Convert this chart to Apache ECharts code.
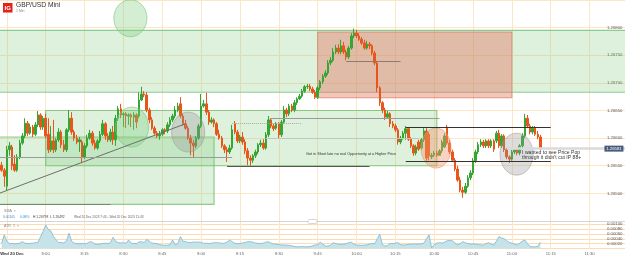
<!DOCTYPE html>
<html><head><meta charset="utf-8">
<script src="https://cdn.jsdelivr.net/npm/echarts@6/dist/echarts.min.js"></script>
<style>html,body{margin:0;padding:0;background:#fff;overflow:hidden}#c{width:625px;height:257px}</style>
</head><body><div id="c"></div>
<script>
// ---- DATA ----
const startMinute = 463; // 07:43, one candle per minute
const openP = [1.26551,1.26542,1.26513,1.26579,1.26584,1.26553,1.26542,1.26566,1.26591,1.26604,
1.26627,1.26609,1.26620,1.26607,1.26624,1.26642,1.26620,1.26636,1.26607,1.26579,
1.26595,1.26579,1.26597,1.26611,1.26588,1.26579,1.26615,1.26636,1.26611,1.26600,
1.26593,1.26593,1.26566,1.26586,1.26600,1.26609,1.26591,1.26582,1.26595,1.26607,
1.26626,1.26604,1.26597,1.26611,1.26597,1.26636,1.26653,1.26642,1.26644,1.26640,
1.26642,1.26638,1.26642,1.26640,1.26669,1.26680,1.26678,1.26651,1.26633,1.26618,
1.26609,1.26604,1.26607,1.26615,1.26613,1.26624,1.26633,1.26640,1.26651,1.26662,
1.26640,1.26626,1.26618,1.26600,1.26591,1.26586,1.26600,1.26622,1.26658,1.26662,
1.26647,1.26629,1.26633,1.26626,1.26607,1.26600,1.26586,1.26579,1.26575,1.26582,
1.26626,1.26611,1.26595,1.26602,1.26593,1.26577,1.26564,1.26560,1.26568,1.26575,
1.26588,1.26591,1.26582,1.26606,1.26633,1.26622,1.26618,1.26626,1.26606,1.26629,
1.26651,1.26644,1.26658,1.26651,1.26664,1.26671,1.26676,1.26685,1.26693,1.26694,
1.26689,1.26683,1.26674,1.26691,1.26702,1.26712,1.26718,1.26736,1.26741,1.26756,
1.26763,1.26756,1.26767,1.26756,1.26747,1.26763,1.26785,1.26790,1.26785,1.26779,
1.26772,1.26763,1.26770,1.26767,1.26754,1.26736,1.26691,1.26664,1.26651,1.26638,
1.26644,1.26626,1.26622,1.26615,1.26593,1.26600,1.26609,1.26617,1.26598,1.26586,
1.26573,1.26593,1.26582,1.26597,1.26613,1.26607,1.26566,1.26569,1.26573,1.26569,
1.26577,1.26584,1.26620,1.26591,1.26575,1.26560,1.26544,1.26524,1.26506,1.26502,
1.26513,1.26528,1.26537,1.26559,1.26575,1.26588,1.26593,1.26586,1.26595,1.26586,
1.26595,1.26595,1.26609,1.26586,1.26604,1.26579,1.26566,1.26562,1.26575,1.26579,
1.26573,1.26586,1.26604,1.26636,1.26622,1.26611,1.26618,1.26607,1.26602];
const closeP = [1.26542,1.26531,1.26579,1.26586,1.26550,1.26542,1.26566,1.26591,1.26604,1.26627,
1.26609,1.26620,1.26607,1.26624,1.26642,1.26620,1.26636,1.26604,1.26579,1.26595,
1.26579,1.26597,1.26611,1.26588,1.26579,1.26615,1.26636,1.26611,1.26600,1.26593,
1.26597,1.26566,1.26586,1.26600,1.26609,1.26591,1.26582,1.26595,1.26607,1.26626,
1.26604,1.26597,1.26611,1.26597,1.26636,1.26653,1.26642,1.26644,1.26640,1.26642,
1.26638,1.26642,1.26629,1.26669,1.26680,1.26678,1.26651,1.26633,1.26618,1.26609,
1.26604,1.26607,1.26615,1.26613,1.26624,1.26633,1.26640,1.26651,1.26658,1.26640,
1.26626,1.26618,1.26600,1.26591,1.26586,1.26600,1.26622,1.26658,1.26662,1.26647,
1.26629,1.26633,1.26626,1.26607,1.26600,1.26586,1.26579,1.26575,1.26582,1.26615,
1.26611,1.26595,1.26602,1.26593,1.26577,1.26564,1.26560,1.26568,1.26575,1.26588,
1.26591,1.26582,1.26606,1.26633,1.26622,1.26617,1.26626,1.26606,1.26629,1.26651,
1.26644,1.26658,1.26651,1.26664,1.26671,1.26676,1.26685,1.26693,1.26694,1.26689,
1.26683,1.26674,1.26691,1.26702,1.26712,1.26718,1.26736,1.26741,1.26756,1.26763,
1.26756,1.26767,1.26756,1.26747,1.26763,1.26785,1.26790,1.26785,1.26779,1.26772,
1.26763,1.26770,1.26767,1.26754,1.26736,1.26691,1.26664,1.26651,1.26638,1.26644,
1.26626,1.26622,1.26615,1.26593,1.26600,1.26609,1.26617,1.26598,1.26586,1.26573,
1.26584,1.26580,1.26597,1.26613,1.26564,1.26568,1.26569,1.26573,1.26569,1.26577,
1.26593,1.26604,1.26591,1.26575,1.26560,1.26544,1.26524,1.26506,1.26502,1.26513,
1.26528,1.26537,1.26559,1.26575,1.26588,1.26593,1.26586,1.26595,1.26586,1.26595,
1.26580,1.26609,1.26586,1.26604,1.26579,1.26566,1.26562,1.26575,1.26579,1.26573,
1.26586,1.26604,1.26636,1.26622,1.26611,1.26618,1.26607,1.26602,1.26581];
const lowP = [1.26539,1.26512,1.26506,1.26568,1.26542,1.26539,1.26539,1.26562,1.26588,1.26600,
1.26604,1.26606,1.26602,1.26604,1.26620,1.26615,1.26615,1.26600,1.26573,1.26575,
1.26573,1.26575,1.26593,1.26582,1.26575,1.26575,1.26611,1.26606,1.26595,1.26589,
1.26575,1.26555,1.26562,1.26582,1.26597,1.26586,1.26579,1.26579,1.26591,1.26604,
1.26597,1.26593,1.26593,1.26588,1.26586,1.26631,1.26636,1.26620,1.26618,1.26624,
1.26620,1.26615,1.26618,1.26636,1.26667,1.26674,1.26647,1.26627,1.26615,1.26606,
1.26600,1.26597,1.26604,1.26607,1.26609,1.26620,1.26629,1.26636,1.26647,1.26636,
1.26622,1.26615,1.26597,1.26569,1.26566,1.26582,1.26597,1.26618,1.26655,1.26642,
1.26624,1.26626,1.26620,1.26604,1.26597,1.26582,1.26573,1.26557,1.26571,1.26579,
1.26607,1.26591,1.26591,1.26588,1.26571,1.26551,1.26550,1.26555,1.26564,1.26571,
1.26584,1.26579,1.26579,1.26602,1.26618,1.26613,1.26615,1.26600,1.26602,1.26626,
1.26638,1.26640,1.26647,1.26647,1.26660,1.26669,1.26673,1.26682,1.26689,1.26685,
1.26680,1.26671,1.26671,1.26687,1.26698,1.26709,1.26714,1.26732,1.26738,1.26752,
1.26752,1.26752,1.26752,1.26741,1.26743,1.26760,1.26781,1.26781,1.26776,1.26769,
1.26760,1.26760,1.26761,1.26750,1.26732,1.26683,1.26658,1.26645,1.26633,1.26635,
1.26620,1.26618,1.26611,1.26588,1.26589,1.26597,1.26597,1.26595,1.26582,1.26568,
1.26569,1.26577,1.26579,1.26593,1.26559,1.26560,1.26562,1.26566,1.26566,1.26568,
1.26573,1.26582,1.26588,1.26571,1.26557,1.26540,1.26521,1.26502,1.26492,1.26499,
1.26510,1.26524,1.26533,1.26555,1.26571,1.26584,1.26582,1.26582,1.26582,1.26582,
1.26575,1.26591,1.26582,1.26582,1.26575,1.26562,1.26555,1.26559,1.26571,1.26569,
1.26569,1.26582,1.26600,1.26618,1.26607,1.26607,1.26604,1.26598,1.26579];
const highP = [1.26557,1.26546,1.26586,1.26593,1.26588,1.26569,1.26571,1.26597,1.26609,1.26636,
1.26631,1.26626,1.26624,1.26629,1.26649,1.26645,1.26640,1.26644,1.26636,1.26622,
1.26633,1.26600,1.26618,1.26615,1.26597,1.26618,1.26651,1.26647,1.26615,1.26606,
1.26602,1.26597,1.26591,1.26606,1.26615,1.26613,1.26597,1.26598,1.26613,1.26633,
1.26629,1.26609,1.26617,1.26622,1.26642,1.26658,1.26662,1.26647,1.26647,1.26645,
1.26645,1.26647,1.26645,1.26683,1.26693,1.26685,1.26683,1.26655,1.26638,1.26622,
1.26613,1.26613,1.26618,1.26618,1.26629,1.26638,1.26644,1.26658,1.26664,1.26674,
1.26645,1.26633,1.26622,1.26606,1.26597,1.26604,1.26626,1.26680,1.26669,1.26682,
1.26651,1.26638,1.26636,1.26629,1.26615,1.26604,1.26589,1.26584,1.26588,1.26624,
1.26631,1.26615,1.26606,1.26611,1.26598,1.26582,1.26569,1.26571,1.26579,1.26591,
1.26597,1.26598,1.26611,1.26640,1.26636,1.26626,1.26629,1.26629,1.26633,1.26658,
1.26655,1.26662,1.26662,1.26669,1.26674,1.26680,1.26689,1.26696,1.26698,1.26698,
1.26693,1.26687,1.26694,1.26705,1.26716,1.26723,1.26741,1.26747,1.26763,1.26769,
1.26770,1.26778,1.26774,1.26760,1.26767,1.26790,1.26798,1.26796,1.26790,1.26783,
1.26778,1.26776,1.26774,1.26770,1.26758,1.26740,1.26694,1.26667,1.26655,1.26649,
1.26647,1.26631,1.26626,1.26618,1.26604,1.26613,1.26622,1.26620,1.26602,1.26589,
1.26588,1.26597,1.26600,1.26618,1.26618,1.26611,1.26573,1.26577,1.26577,1.26580,
1.26597,1.26609,1.26624,1.26597,1.26579,1.26564,1.26550,1.26530,1.26512,1.26519,
1.26533,1.26542,1.26564,1.26579,1.26593,1.26598,1.26597,1.26598,1.26598,1.26598,
1.26598,1.26613,1.26615,1.26607,1.26607,1.26582,1.26569,1.26579,1.26580,1.26580,
1.26589,1.26609,1.26644,1.26642,1.26626,1.26622,1.26622,1.26613,1.26606];
const atrVals = [0.00021,0.00056,0.00030,0.00020,0.00021,0.00019,0.00020,0.00022,0.00028,0.00022,
0.00020,0.00021,0.00022,0.00024,0.00025,0.00048,0.00070,0.00097,0.00078,0.00072,
0.00049,0.00035,0.00025,0.00024,0.00023,0.00030,0.00063,0.00030,0.00022,0.00020,
0.00020,0.00021,0.00019,0.00022,0.00028,0.00026,0.00018,0.00017,0.00018,0.00021,
0.00022,0.00020,0.00024,0.00046,0.00030,0.00024,0.00023,0.00024,0.00022,0.00035,
0.00022,0.00021,0.00020,0.00027,0.00028,0.00024,0.00038,0.00030,0.00022,0.00021,
0.00020,0.00016,0.00014,0.00013,0.00014,0.00015,0.00035,0.00015,0.00020,0.00049,
0.00030,0.00028,0.00025,0.00024,0.00027,0.00026,0.00027,0.00025,0.00021,0.00022,
0.00020,0.00022,0.00024,0.00024,0.00023,0.00021,0.00022,0.00026,0.00035,0.00028,
0.00021,0.00020,0.00021,0.00022,0.00025,0.00028,0.00028,0.00026,0.00022,0.00021,
0.00021,0.00022,0.00026,0.00028,0.00022,0.00018,0.00018,0.00016,0.00015,0.00014,
0.00014,0.00013,0.00011,0.00009,0.00007,0.00007,0.00008,0.00007,0.00007,0.00008,
0.00011,0.00014,0.00016,0.00026,0.00018,0.00010,0.00010,0.00014,0.00024,0.00020,
0.00018,0.00017,0.00018,0.00020,0.00024,0.00026,0.00018,0.00014,0.00014,0.00013,
0.00014,0.00015,0.00018,0.00021,0.00019,0.00040,0.00059,0.00015,0.00010,0.00012,
0.00021,0.00020,0.00022,0.00024,0.00016,0.00014,0.00015,0.00017,0.00018,0.00019,
0.00018,0.00018,0.00019,0.00022,0.00040,0.00056,0.00003,0.00016,0.00022,0.00024,
0.00022,0.00026,0.00032,0.00033,0.00032,0.00022,0.00015,0.00020,0.00028,0.00024,
0.00020,0.00018,0.00019,0.00018,0.00016,0.00015,0.00014,0.00020,0.00024,0.00018,
0.00014,0.00030,0.00049,0.00043,0.00040,0.00032,0.00025,0.00022,0.00018,0.00014,
0.00022,0.00030,0.00035,0.00020,0.00008,0.00007,0.00007,0.00009,0.00026];

// drawings (minute-of-day, price)
const boxes = [
  {kind:'green',  from:[450,1.26795], to:[705,1.26683]},
  {kind:'green',  from:[455,1.26602], to:[545,1.26480]},
  {kind:'green',  from:[480,1.26650], to:[631,1.26550]},
  {kind:'orange', from:[585,1.26792], to:[660,1.26673]}
];
const lines = [
  {kind:'trend',  from:[462,1.26500], to:[534,1.26626]},
  {kind:'grey',   from:[455,1.26566], to:[552,1.26566]},
  {kind:'green',  from:[455,1.26481], to:[505,1.26481]},
  {kind:'dark',   from:[550,1.26549], to:[605,1.26549]},
  {kind:'dotted', from:[552,1.26627], to:[579,1.26627]},
  {kind:'grey',   from:[567,1.26636], to:[632,1.26636]},
  {kind:'light',  from:[565,1.26600], to:[624,1.26600]},
  {kind:'brown',  from:[596,1.26740], to:[617,1.26740]},
  {kind:'black',  from:[619,1.26620], to:[675,1.26620]},
  {kind:'black',  from:[619,1.26559], to:[675,1.26559]}
];
// ellipses: [centre minute, centre price, radius minutes, radius price, kind]
const circles = [
  [512.7, 1.26817, 6.4, 0.000335, 0],
  [513.3, 1.26620, 6.4, 0.000362, 0],
  [535.0, 1.26611, 6.4, 0.000362, 1],
  [630.7, 1.26582, 5.8, 0.000362, 2],
  [661.8, 1.26571, 6.4, 0.000380, 1]
];
const notes = [
  {at:[580.5, 1.26571], text:'Get in Short late no real Opportunity at a Higher Price', size:3.8},
  {at:[663.9, 1.26569], text:'I wanted to see Price Pop\nthrough it didn\'t cut IP 88+', size:5.1}
];
const xMin = 450, xMax = 705, xStep = 15;

// ---- CHART ----
const PX = 2.59;
const gridLeft = -32, gridWidth = (xMax - xMin) * PX;
const candles = openP.map((o,i)=>[startMinute+i, o, closeP[i], lowP[i], highP[i]]);
const atr = atrVals.map((v,i)=>[startMinute+i, v]);
const lastPrice = closeP[closeP.length-1];
const FONT = 'Liberation Sans';
const GRID_C = '#fce6c6';

const boxStyle = {
  green: {color:'rgba(120,200,120,0.25)', borderColor:'rgba(110,190,110,0.75)', borderWidth:1.2},
  orange:{color:'rgba(230,110,90,0.40)', borderColor:'rgba(215,130,105,0.8)', borderWidth:1}
};
const lineStyle = {
  trend:{color:'#6e6e6e', width:1, type:'solid'},
  grey:{color:'#9a9a9a', width:1, type:'solid'},
  green:{color:'#6f8c6f', width:1.2, type:'solid'},
  dark:{color:'#555', width:1, type:'solid'},
  dotted:{color:'#aaa', width:1, type:'dotted'},
  light:{color:'#c4c4c4', width:1, type:'solid'},
  brown:{color:'#8d7d6d', width:1, type:'solid'},
  black:{color:'#333', width:1, type:'solid'}
};
const circStyle = [
  {fill:'rgba(130,205,130,0.35)', stroke:'rgba(120,190,120,0.55)'},
  {fill:'rgba(150,150,150,0.32)', stroke:'rgba(150,150,150,0.5)'},
  {fill:'rgba(240,150,110,0.42)', stroke:'rgba(230,150,120,0.6)'}
];
function fmtTime(v){
  if (v === 465) return '{d|Wed 20 Dec}';
  const h = Math.floor(v/60), m = v%60;
  return h + ':' + (m<10?'0':'') + m;
}

const chart = echarts.init(document.getElementById('c'), null, {renderer:'canvas', width:625, height:257});
const txt = (x,y,text,size,fill,extra) => Object.assign({type:'text', x:x, y:y, z:100,
  style:{text:text, fill:fill, font:size+'px "'+FONT+'"', fontSize:size, fontFamily:FONT,
         align:'left', verticalAlign:'middle', textAlign:'left', textVerticalAlign:'middle'}}, extra||{});

chart.setOption({
  animation:false,
  backgroundColor:'#fff',
  grid:[
    {left:gridLeft, top:0, width:gridWidth, height:221, outerBoundsMode:'none', containLabel:false},
    {left:gridLeft, top:221, width:gridWidth, height:27.5, outerBoundsMode:'none', containLabel:false}
  ],
  xAxis:[
    {type:'value', gridIndex:0, min:xMin, max:xMax, interval:xStep,
     axisLine:{show:false}, axisTick:{show:false}, axisLabel:{show:false},
     splitLine:{show:true, lineStyle:{color:GRID_C, width:1}}},
    {type:'value', gridIndex:1, min:xMin, max:xMax, interval:xStep,
     axisLine:{show:false}, axisTick:{show:false},
     axisLabel:{show:true, fontSize:4.2, color:'#666', fontFamily:FONT, margin:3,
       showMaxLabel:false, formatter:fmtTime,
       rich:{d:{fontSize:4.2, fontWeight:'bold', color:'#333', fontFamily:FONT, padding:[0,0,0,10]}}},
     splitLine:{show:true, lineStyle:{color:GRID_C, width:1}}}
  ],
  yAxis:[
    {type:'value', gridIndex:0, position:'right', min:1.2645, max:1.2685, interval:0.0005,
     axisLine:{show:false}, axisTick:{show:false},
     axisLabel:{inside:true, margin:6, fontSize:4.3, color:'#555', fontFamily:FONT,
       showMinLabel:false, showMaxLabel:false, formatter:v=>v.toFixed(5)},
     splitLine:{show:true, lineStyle:{color:GRID_C, width:1}}},
    {type:'value', gridIndex:1, position:'right', min:0, max:0.00113, interval:0.0002,
     axisLine:{show:false}, axisTick:{show:false},
     axisLabel:{inside:true, margin:6, fontSize:4.3, color:'#555', fontFamily:FONT,
       showMinLabel:false, showMaxLabel:false, formatter:v=>v.toFixed(5)},
     splitLine:{show:true, lineStyle:{color:'#fbdcb4', width:1}}}
  ],
  series:[
    {type:'candlestick', xAxisIndex:0, yAxisIndex:0, z:2, barWidth:2, large:false,
     data:candles,
     itemStyle:{color:'#35a535', color0:'#e8561a', borderColor:'#35a535', borderColor0:'#e8561a', borderWidth:1},
     markArea:{silent:true, z:1, label:{show:false},
       data: boxes.map(b=>[{coord:b.from, itemStyle:boxStyle[b.kind]},{coord:b.to}])},
     markLine:{silent:true, z:5, symbol:['none','none'], label:{show:false},
       lineStyle:{type:'solid'},
       data: lines.map(l=>[{coord:l.from, lineStyle:lineStyle[l.kind]},{coord:l.to}])
         .concat([[{coord:[658,lastPrice], lineStyle:{color:'#dadada', width:2.5, type:'solid'}},{coord:[xMax,lastPrice]}]])},
     markPoint:{silent:true, z:6,
       data: notes.map(n=>({coord:n.at, symbol:'rect', symbolSize:[0.1,0.1],
           itemStyle:{color:'rgba(0,0,0,0)'},
           label:{show:true, position:'right', distance:0, formatter:n.text, fontSize:n.size,
                  lineHeight:n.size*1.1, color:'#333', fontFamily:FONT}}))
         .concat([{coord:[699.4,lastPrice], symbol:'rect', symbolSize:[19,6], itemStyle:{color:'#4b5a7b'},
           label:{show:true, position:'inside', formatter:lastPrice.toFixed(5), fontSize:4.3, color:'#fff', fontFamily:FONT}}])}
    },
    {type:'custom', xAxisIndex:0, yAxisIndex:0, z:3, silent:true, data:circles,
     renderItem:function(params, api){
       const c = api.coord([api.value(0), api.value(1)]);
       const s = api.size([api.value(2), api.value(3)]);
       const st = circStyle[api.value(4)];
       return {type:'ellipse', shape:{cx:c[0], cy:c[1], rx:s[0], ry:s[1]},
               style:{fill:st.fill, stroke:st.stroke, lineWidth:1}};
     }},
    {type:'line', xAxisIndex:1, yAxisIndex:1, data:atr, showSymbol:false, silent:true,
     lineStyle:{color:'#7db8d2', width:0.8}, areaStyle:{color:'#c5e3e9', opacity:1}}
  ],
  graphic:[
    {type:'rect', x:3, y:3, z:100, shape:{width:9.5, height:9.5}, style:{fill:'#e2231a'}},
    {type:'text', x:7.75, y:8, z:101, style:{text:'IG', fill:'#fff', font:'bold 6px "'+FONT+'"',
      align:'center', verticalAlign:'middle', textAlign:'center', textVerticalAlign:'middle'}},
    txt(16, 5.6, 'GBP/USD Mini', 6.7, '#333'),
    txt(16, 11.4, '1 Min', 3.5, '#888'),
    txt(4, 210.8, 'SMA  \u00d7', 3.6, '#888'),
    txt(3, 217.5, '0.00105', 3.3, '#3a87cf'),
    txt(20, 217.5, '0.08%', 3.3, '#3a87cf'),
    txt(33, 217.5, 'H ' + Math.max.apply(null, highP).toFixed(5), 3.3, '#444'),
    txt(50, 217.5, 'L ' + Math.min.apply(null, lowP).toFixed(5), 3.3, '#444'),
    txt(74, 217.5, 'Wed 20 Dec 2023 7:43 - Wed 20 Dec 2023 11:43', 3.2, '#666'),
    {type:'line', z:100, shape:{x1:0, y1:221.5, x2:625, y2:221.5}, style:{stroke:'#d6d6d6', lineWidth:1}},
    {type:'rect', x:308, y:219.5, z:101, shape:{width:9, height:4, r:1.5}, style:{fill:'#fff', stroke:'#bbb', lineWidth:0.6}},
    txt(4, 226, 'ATR  1  \u00d7', 3.6, '#888')
  ]
});
</script>
</body></html>
